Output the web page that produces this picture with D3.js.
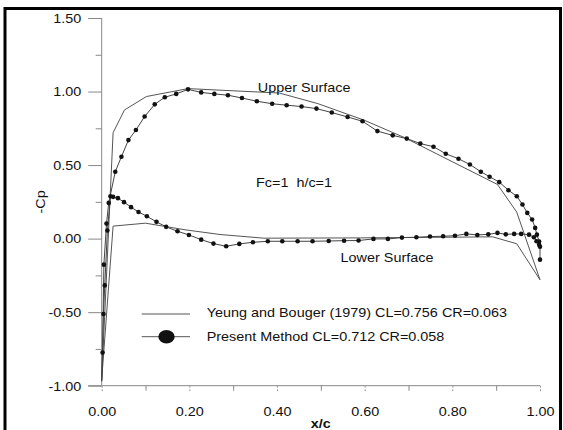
<!DOCTYPE html>
<html><head><meta charset="utf-8">
<script src="https://cdn.jsdelivr.net/npm/d3@7/dist/d3.min.js"></script>
<style>body{margin:0;background:#fff} svg text{font-family:"Liberation Sans",Arial,Helvetica,sans-serif;fill:#111;white-space:pre}</style>
</head><body><svg id="c" width="563" height="430"></svg>
<script>
// ---- data ----
const stagnation = [0.0, -0.97];
const presentUpperX = [0.002,0.005,0.011,0.016,0.031,0.045,0.061,0.078,0.098,0.121,0.144,0.170,0.197,0.227,0.257,0.288,0.320,0.354,0.389,0.422,0.456,0.490,0.525,0.561,0.595,0.629,0.664,0.696,0.727,0.757,0.785,0.814,0.840,0.865,0.885,0.907,0.928,0.947,0.960,0.971,0.982,0.989,0.993,0.998,1.000,1.000];
const presentUpperY = [-0.775,-0.177,0.102,0.243,0.455,0.557,0.670,0.738,0.830,0.913,0.961,0.984,1.015,0.994,0.984,0.975,0.956,0.934,0.917,0.907,0.898,0.884,0.857,0.827,0.798,0.731,0.702,0.680,0.646,0.625,0.577,0.543,0.504,0.455,0.421,0.384,0.329,0.288,0.232,0.175,0.130,0.073,0.027,-0.020,-0.055,-0.143];
const presentLowerX = [0.004,0.007,0.013,0.020,0.026,0.037,0.051,0.067,0.084,0.103,0.125,0.147,0.173,0.199,0.227,0.255,0.284,0.314,0.345,0.379,0.412,0.447,0.481,0.518,0.553,0.586,0.620,0.653,0.685,0.718,0.749,0.779,0.806,0.832,0.857,0.882,0.903,0.922,0.941,0.957,0.975,0.986,0.992,0.998];
const presentLowerY = [-0.513,-0.318,0.055,0.288,0.284,0.275,0.248,0.214,0.181,0.152,0.114,0.080,0.050,0.025,-0.007,-0.034,-0.052,-0.036,-0.025,-0.018,-0.018,-0.018,-0.018,-0.016,-0.014,-0.013,-0.002,-0.002,0.007,0.009,0.014,0.016,0.020,0.032,0.025,0.029,0.039,0.029,0.032,0.032,0.027,0.009,-0.018,-0.041];
const yeungUpperX = [0.0,0.026,0.052,0.102,0.197,0.300,0.405,0.493,0.599,0.690,0.903,0.947,1.0];
const yeungUpperY = [-0.96,0.72,0.875,0.966,1.02,1.005,0.99,0.918,0.805,0.688,0.368,0.18,-0.28];
const yeungLowerX = [0.0,0.026,0.100,0.140,0.190,0.270,0.370,0.590,0.892,0.947,1.0];
const yeungLowerY = [-0.96,0.085,0.105,0.085,0.060,0.028,0.003,0.005,0.012,-0.035,-0.28];
const xTicks = [0,0.2,0.4,0.6,0.8,1.0];
const xMinor = [0.1,0.3,0.5,0.7,0.9];
const yTicks = [-1.0,-0.5,0,0.5,1.0,1.5];
const yMinor = [-0.75,-0.25,0.25,0.75,1.25];
const legendLabels = ["Yeung and Bouger (1979) CL=0.756 CR=0.063","Present Method CL=0.712 CR=0.058"];
const annotations = [["Upper Surface",0.356,0.995],["Lower Surface",0.545,-0.157],["Fc=1  h/c=1",0.352,0.35]];

// ---- chart ----
const svg = d3.select("#c");
const SX = 1.2;
const fmt = v => v.toFixed(2);
svg.append("rect").attr("x",5).attr("y",8.5).attr("width",555.5).attr("height",440)
  .attr("fill","none").attr("stroke","#000").attr("stroke-width",3);

const x = d3.scaleLinear().domain([0,1]).range([101.7,540]);
const y = d3.scaleLinear().domain([-1,1.5]).range([385.7,18]);

// y axis
const gy = svg.append("g").attr("transform",`translate(${x(0)},0)`);
gy.call(d3.axisLeft(y).tickValues(yTicks).tickSize(13.5).tickPadding(7).tickFormat(fmt));
gy.select(".domain").attr("stroke","#888").attr("d",`M0,${y(1.5)}V${y(-1)}`);
gy.selectAll(".tick line").attr("stroke","#888");
gy.selectAll(".tick text").attr("font-size",12).attr("fill","#111").attr("dy",null)
  .attr("transform",`translate(-20.5,4.3) scale(${SX},1)`).attr("x",0).attr("y",0).attr("text-anchor","end");
const gym = svg.append("g").attr("transform",`translate(${x(0)},0)`);
gym.call(d3.axisLeft(y).tickValues(yMinor).tickSize(6).tickFormat(""));
gym.select(".domain").remove();
gym.selectAll(".tick line").attr("stroke","#888");

// x axis
const gx = svg.append("g").attr("transform",`translate(0,${y(-1)})`);
gx.call(d3.axisBottom(x).tickValues(xTicks).tickSize(7).tickPadding(0).tickFormat(fmt));
gx.select(".domain").attr("stroke","#888").attr("d",`M${x(0)-13.5},0H${x(1)}`);
gx.selectAll(".tick line").attr("stroke","#999").attr("stroke-dasharray","2,1.5");
gx.selectAll(".tick text").attr("font-size",12).attr("fill","#111").attr("dy",null)
  .attr("transform",`translate(0,30.3) scale(${SX},1)`).attr("y",0).attr("text-anchor","middle");
const gxm = svg.append("g").attr("transform",`translate(0,${y(-1)})`);
gxm.call(d3.axisBottom(x).tickValues(xMinor).tickSize(5).tickFormat(""));
gxm.select(".domain").remove();
gxm.selectAll(".tick line").attr("stroke","#888");

// axis titles
svg.append("text").attr("transform",`translate(44.5,${(y(1.5)+y(-1))/2}) rotate(-90) scale(${SX},1)`)
  .attr("text-anchor","middle").attr("font-size",12).text("-Cp");
svg.append("text").attr("transform",`translate(${x(0.5)},428) scale(${SX},1)`)
  .attr("text-anchor","middle").attr("font-size",12).attr("font-weight","bold").text("x/c");

// series
const line = d3.line().x(d=>x(d[0])).y(d=>y(d[1]));
const zipPts = (xs,ys)=>xs.map((v,i)=>[v,ys[i]]);
const yU = zipPts(yeungUpperX,yeungUpperY), yL = zipPts(yeungLowerX,yeungLowerY);
const pU = [stagnation].concat(zipPts(presentUpperX,presentUpperY));
const pL = [stagnation].concat(zipPts(presentLowerX,presentLowerY));
[yU,yL].forEach(p=>svg.append("path").attr("d",line(p)).attr("fill","none").attr("stroke","#555").attr("stroke-width",1));
[pU,pL].forEach(p=>svg.append("path").attr("d",line(p)).attr("fill","none").attr("stroke","#444").attr("stroke-width",1));
const dots = zipPts(presentUpperX,presentUpperY).concat(zipPts(presentLowerX,presentLowerY));
svg.append("g").selectAll("circle").data(dots).join("circle")
  .attr("cx",d=>x(d[0])).attr("cy",d=>y(d[1])).attr("r",2.3).attr("fill","#111");

// annotations
annotations.forEach(a=>{
  svg.append("text").attr("transform",`translate(${x(a[1])},${y(a[2])}) scale(${SX},1)`)
    .attr("font-size",12).text(a[0]);
});

// legend
const lg = svg.append("g");
lg.append("line").attr("x1",141.7).attr("x2",190).attr("y1",314).attr("y2",314).attr("stroke","#555");
lg.append("line").attr("x1",141.7).attr("x2",190).attr("y1",336.7).attr("y2",336.7).attr("stroke","#555");
lg.append("ellipse").attr("cx",166.5).attr("cy",336.7).attr("rx",8.2).attr("ry",6.8).attr("fill","#111");
lg.append("text").attr("transform",`translate(206.7,316.7) scale(${SX},1)`).attr("font-size",12).text(legendLabels[0]);
lg.append("text").attr("transform",`translate(206.7,340.7) scale(${SX},1)`).attr("font-size",12).text(legendLabels[1]);
</script></body></html>
